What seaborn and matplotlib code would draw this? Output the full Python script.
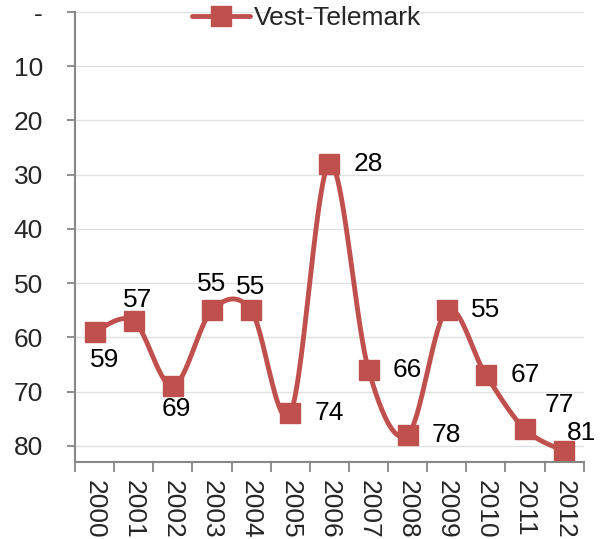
import numpy as np
import matplotlib
matplotlib.use("Agg")
import matplotlib.pyplot as plt
import seaborn as sns
from matplotlib.lines import Line2D

# --- data -------------------------------------------------------------
years = ["2000", "2001", "2002", "2003", "2004", "2005", "2006",
         "2007", "2008", "2009", "2010", "2011", "2012"]
ranks = [59, 57, 69, 55, 55, 74, 28, 66, 78, 55, 67, 77, 81]
series_name = "Vest-Telemark"
ytick_values = [0, 10, 20, 30, 40, 50, 60, 70, 80]
ytick_labels = ["-", "10", "20", "30", "40", "50", "60", "70", "80"]

# label placement relative to each point, in pixels (dx right, dy up)
label_offsets = [(10, -28), (4, 21), (3, -23), (0, 26), (-1, 23),
                 (39, 0), (39, 0), (39, 0), (39, 0), (39, 0), (39, 0),
                 (34, 24), (17, 18)]

RED = "#C0504D"
AXIS_GREY = "#878787"
GRID = "#DCE3E0"
FS = 19


def smooth_curve(xs, ys, n=40):
    """Bezier smoothing through every point (Catmull-Rom style control points)."""
    pts = np.column_stack([xs, ys]).astype(float)
    ext = np.vstack([pts[0], pts, pts[-1]])
    t = np.linspace(0, 1, n)[:, None]
    parts = []
    for i in range(len(pts) - 1):
        p0, p1, p2, p3 = ext[i], ext[i + 1], ext[i + 2], ext[i + 3]
        c1 = p1 + (p2 - p0) / 6.0
        c2 = p2 - (p3 - p1) / 6.0
        seg = ((1 - t) ** 3) * p1 + 3 * ((1 - t) ** 2) * t * c1 \
            + 3 * (1 - t) * (t ** 2) * c2 + (t ** 3) * p2
        parts.append(seg if i == 0 else seg[1:])
    return np.vstack(parts)


sns.set_style("white")
plt.rcParams["font.family"] = ["Liberation Sans", "DejaVu Sans"]

fig = plt.figure(figsize=(6.06, 5.39), dpi=100)
ax = fig.add_axes([0.1238, 0.1429, 0.8395, 0.8348])

xpos = np.arange(len(years))
curve = smooth_curve(xpos, ranks)

sns.lineplot(x=curve[:, 0], y=curve[:, 1], sort=False, estimator=None,
             color=RED, linewidth=3.5, ax=ax, solid_joinstyle="round",
             solid_capstyle="round")
sns.lineplot(x=xpos, y=ranks, sort=False, estimator=None, color=RED,
             linestyle="none", marker="s", markersize=14,
             markeredgewidth=1.0, markeredgecolor=RED, ax=ax)

for x, v, (dx, dy) in zip(xpos, ranks, label_offsets):
    ax.annotate(str(v), xy=(x, v), xytext=(dx, dy), textcoords="offset pixels",
                ha="center", va="center", fontsize=FS, color="black",
                annotation_clip=False)

# axes
ax.set_xlim(-0.5, len(years) - 0.5)
ax.set_ylim(83, 0)
ax.set_yticks(ytick_values, ytick_labels)
ax.set_xticks(np.arange(-0.5, len(years), 1.0))
ax.set_xticklabels([])
ax.set_xticks(xpos, minor=True)
ax.set_xticklabels(years, minor=True, rotation=270)
ax.tick_params(axis="x", which="major", direction="out", length=7,
               width=1.3, color=AXIS_GREY, bottom=True)
ax.tick_params(axis="x", which="minor", length=0, pad=13, labelsize=FS)
ax.tick_params(axis="y", direction="out", length=6, width=1.3,
               color=AXIS_GREY, left=True, pad=17, labelsize=FS)
ax.set_xlabel("")
ax.set_ylabel("")

ax.yaxis.grid(True, color=GRID, linewidth=1.0)
ax.xaxis.grid(False)
ax.set_axisbelow(True)
for side in ("top", "right"):
    ax.spines[side].set_visible(False)
for side in ("left", "bottom"):
    ax.spines[side].set_color(AXIS_GREY)
    ax.spines[side].set_linewidth(1.5)

handle = Line2D([], [], color=RED, linewidth=3.5, marker="s", markersize=14,
                markeredgewidth=1.0, markeredgecolor=RED)
fig.legend(handles=[handle], labels=[series_name], loc="center",
           bbox_to_anchor=(0.5066, 0.9666), frameon=False, fontsize=FS,
           handlelength=2.2, handletextpad=0.15, borderpad=0.0)

fig.savefig("out.png", dpi=100)
